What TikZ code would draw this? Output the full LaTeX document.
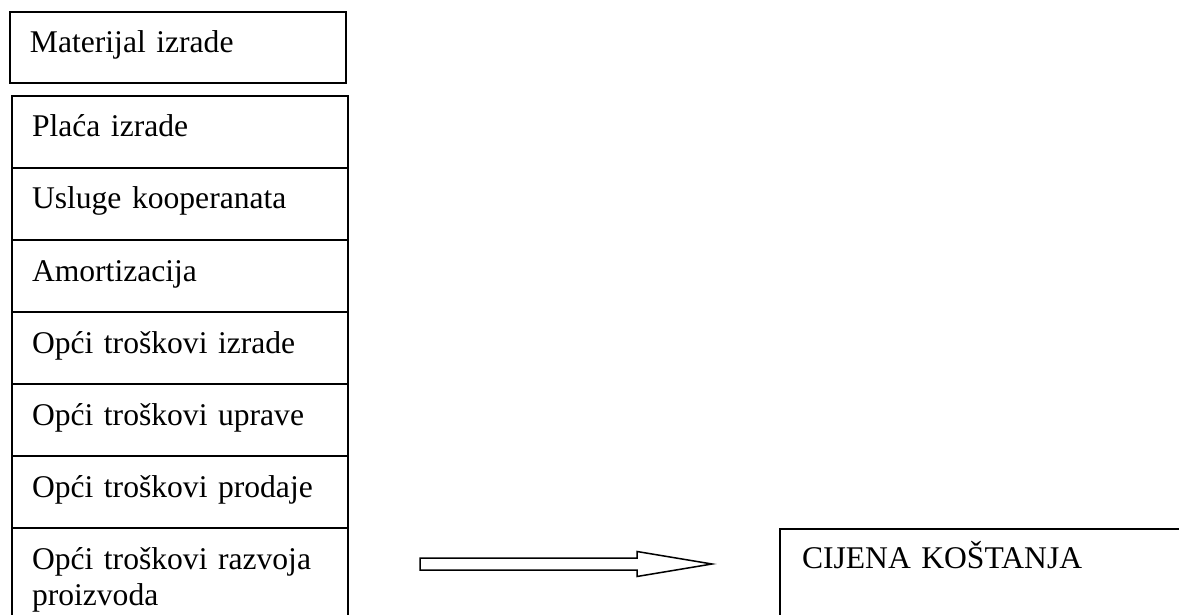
\documentclass[tikz,border=0pt]{standalone}
\usepackage{fontspec}
\setmainfont{Liberation Serif}
\usetikzlibrary{calc, positioning}

\tikzset{
  costbox/.style={shape=rectangle, draw=black, fill=white, anchor=north west, outer sep=0pt,
    text width=296, align=left, inner xsep=20, inner ysep=19, text height=22},
  onerow/.style={costbox, text depth=12}
}

\begin{document}
\begin{tikzpicture}[x=1pt, y=-1pt, line width=1.9pt, font=\fontsize{31.6}{36.5}\selectfont]
\useasboundingbox (0,0) rectangle (1179,615);
\node[onerow, inner ysep=18.5] (mat) at (10,12) {Materijal izrade};
%stack of costs
\node[onerow] (placa) at (12,96) {Plaća izrade};
\node[onerow, below=0pt of placa] (usluge) {Usluge kooperanata};
\node[onerow, below=0pt of usluge] (amort) {Amortizacija};
\node[onerow, below=0pt of amort] (oti) {Opći troškovi izrade};
\node[onerow, below=0pt of oti] (otu) {Opći troškovi uprave};
\node[onerow, below=0pt of otu] (otp) {Opći troškovi prodaje};
\node[costbox, below=0pt of otp] (otr) {Opći troškovi razvoja proizvoda};
%
\node[costbox, text width=376, inner xsep=22, inner ysep=17, text depth=64] (cijena) at (780,529) {CIJENA KOŠTANJA};
%arrow
\coordinate (arrtail) at (420,564);
\coordinate (arrtip) at (712,564);
\draw[line width=1.5pt, fill=white] ($(arrtail)+(0,-6)$) -- ($(arrtip)+(-75,-6)$) -- ($(arrtip)+(-75,-12.5)$) -- (arrtip)
  -- ($(arrtip)+(-75,12.5)$) -- ($(arrtip)+(-75,6)$) -- ($(arrtail)+(0,6)$) -- cycle;
\end{tikzpicture}
\end{document}
